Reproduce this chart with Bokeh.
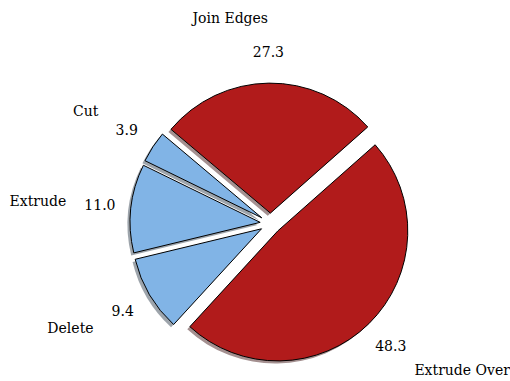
import numpy as np
from bokeh.plotting import figure
from bokeh.models import ColumnDataSource, Range1d
from bokeh.core.properties import value
from bokeh.embed import file_html
from bokeh.resources import INLINE

labels = ["Join Edges", "Cut", "Extrude", "Delete", "Extrude Over"]
values = [27.3, 3.9, 11.0, 9.4, 48.3]
colors = ["#b11b1b", "#81b4e6", "#81b4e6", "#81b4e6", "#b11b1b"]
explode = [0.08, 0.08, 0.08, 0.08, 0.08]
pct_text = ["%.1f" % v for v in values]

start_angle = 41.5
R = 130.0
CX, CY = 270.0, -223.0
LABEL_D = 1.5
PCT_D = 1.24

W, H = 510, 381
p = figure(width=W, height=H, output_backend="svg", toolbar_location=None,
           x_range=Range1d(0, W), y_range=Range1d(-H, 0),
           min_border=0)
p.axis.visible = False
p.grid.visible = False
p.outline_line_color = None
p.background_fill_color = "white"
p.border_fill_color = "white"

vals = np.array(values)
frac = vals / vals.sum()
a0 = np.deg2rad(start_angle) + 2 * np.pi * np.concatenate([[0], np.cumsum(frac)[:-1]])
a1 = a0 + 2 * np.pi * frac
mid = (a0 + a1) / 2
ex = np.array(explode) * R
cx = CX + ex * np.cos(mid)
cy = CY + ex * np.sin(mid)

def shade(c):
    r, g, b = int(c[1:3], 16), int(c[3:5], 16), int(c[5:7], 16)
    return "#%02x%02x%02x" % (int(0.3 * r), int(0.3 * g), int(0.3 * b))

src = ColumnDataSource(dict(
    x=cx, y=cy, sx=cx - 0.02 * R, sy=cy - 0.02 * R,
    a0=a0, a1=a1, color=colors, shadow=[shade(c) for c in colors],
    lx=cx + LABEL_D * R * np.cos(mid), ly=cy + LABEL_D * R * np.sin(mid),
    px=cx + PCT_D * R * np.cos(mid), py=cy + PCT_D * R * np.sin(mid),
    label=labels, pct=pct_text,
    align=["left" if np.cos(m) > 0 else "right" for m in mid],
))

p.wedge(x="sx", y="sy", radius=R, radius_units="data", start_angle="a0", end_angle="a1",
        fill_color="shadow", fill_alpha=0.45, line_color=None, source=src)
p.wedge(x="x", y="y", radius=R, radius_units="data", start_angle="a0", end_angle="a1",
        fill_color="color", line_color="black", line_width=1, source=src)
p.text(x="lx", y="ly", text="label", text_align="align", text_baseline="middle",
       text_font=value("DejaVu Serif"), text_font_size="14px", text_color="black", source=src)
p.text(x="px", y="py", text="pct", text_align="center", text_baseline="middle",
       text_font=value("DejaVu Serif"), text_font_size="14px", text_color="black", source=src)

open("out.html", "w").write(file_html(p, INLINE))
